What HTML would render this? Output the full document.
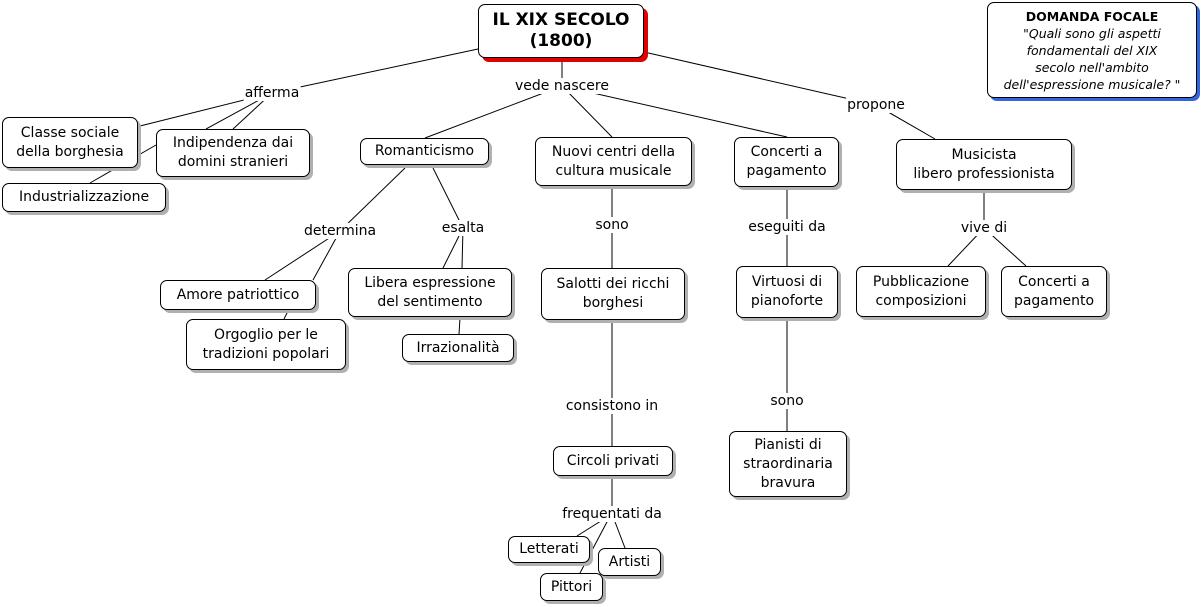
<!DOCTYPE html>
<html><head><meta charset="utf-8"><style>
body{margin:0;width:1204px;height:607px;background:#fff;position:relative;overflow:hidden;font-family:"DejaVu Sans","Liberation Sans",sans-serif;font-size:14px;color:#000}
.n{position:absolute;box-sizing:border-box;border:1px solid #000;border-radius:7px;background:#fff;box-shadow:3px 3px 0 #b0b0b0;display:flex;align-items:center;justify-content:center;text-align:center;line-height:19px}
.l{position:absolute;background:#fff;transform:translate(-50%,-50%);white-space:nowrap;line-height:16px;padding:0 1px}
svg{position:absolute;left:0;top:0}
</style></head><body>
<svg width="1204" height="607" stroke="#000" stroke-width="1">
<line x1="478" y1="49" x2="272" y2="93"/>
<line x1="272" y1="93" x2="140" y2="126"/>
<line x1="272" y1="93" x2="206" y2="129"/>
<line x1="272" y1="93" x2="233" y2="129"/>
<line x1="90" y1="183" x2="156" y2="145"/>
<line x1="562" y1="58" x2="562" y2="86"/>
<line x1="562" y1="86" x2="425" y2="138"/>
<line x1="562" y1="86" x2="612" y2="137"/>
<line x1="562" y1="86" x2="787" y2="137"/>
<line x1="644" y1="52" x2="876" y2="105"/>
<line x1="876" y1="105" x2="935" y2="139"/>
<line x1="405" y1="168" x2="340" y2="231"/>
<line x1="433" y1="168" x2="463" y2="228"/>
<line x1="340" y1="231" x2="265" y2="280"/>
<line x1="340" y1="231" x2="313" y2="280"/>
<line x1="284" y1="319" x2="288" y2="311"/>
<line x1="463" y1="228" x2="443" y2="268"/>
<line x1="463" y1="228" x2="462" y2="268"/>
<line x1="460" y1="318" x2="459" y2="334"/>
<line x1="612" y1="186" x2="612" y2="268"/>
<line x1="612" y1="320" x2="612" y2="446"/>
<line x1="612" y1="476" x2="612" y2="514"/>
<line x1="612" y1="514" x2="577" y2="536"/>
<line x1="608" y1="520" x2="580" y2="573"/>
<line x1="612" y1="514" x2="625" y2="548"/>
<line x1="787" y1="187" x2="787" y2="266"/>
<line x1="787" y1="318" x2="787" y2="431"/>
<line x1="984" y1="190" x2="984" y2="228"/>
<line x1="984" y1="228" x2="948" y2="266"/>
<line x1="984" y1="228" x2="1026" y2="266"/>
</svg>
<div class="l" style="left:272px;top:93px">afferma</div>
<div class="l" style="left:562px;top:86px">vede nascere</div>
<div class="l" style="left:876px;top:105px">propone</div>
<div class="l" style="left:340px;top:231px">determina</div>
<div class="l" style="left:463px;top:228px">esalta</div>
<div class="l" style="left:612px;top:225px">sono</div>
<div class="l" style="left:787px;top:227px">eseguiti da</div>
<div class="l" style="left:984px;top:228px">vive di</div>
<div class="l" style="left:612px;top:406px">consistono in</div>
<div class="l" style="left:787px;top:401px">sono</div>
<div class="l" style="left:612px;top:514px">frequentati da</div>

<div class="n" style="left:478px;top:4px;width:166px;height:54px;font-weight:bold;font-size:17px;line-height:21px;box-shadow:4px 4px 0 #e00000">IL XIX SECOLO<br>(1800)</div>
<div class="n" style="left:987px;top:2px;width:210px;height:96px;font-size:12.5px;line-height:17px;box-shadow:3px 3px 0 #3366dd;flex-direction:column"><b>DOMANDA FOCALE</b><i>"Quali sono gli aspetti<br>fondamentali del XIX<br>secolo nell'ambito<br>dell'espressione musicale? "</i></div>
<div class="n" style="left:2px;top:117px;width:136px;height:51px">Classe sociale<br>della borghesia</div>
<div class="n" style="left:156px;top:129px;width:154px;height:48px">Indipendenza dai<br>domini stranieri</div>
<div class="n" style="left:2px;top:183px;width:164px;height:29px">Industrializzazione</div>
<div class="n" style="left:360px;top:138px;width:129px;height:27px">Romanticismo</div>
<div class="n" style="left:535px;top:137px;width:157px;height:49px">Nuovi centri della<br>cultura musicale</div>
<div class="n" style="left:734px;top:137px;width:105px;height:50px">Concerti a<br>pagamento</div>
<div class="n" style="left:896px;top:139px;width:176px;height:51px">Musicista<br>libero professionista</div>
<div class="n" style="left:160px;top:280px;width:156px;height:30px">Amore patriottico</div>
<div class="n" style="left:186px;top:319px;width:160px;height:51px">Orgoglio per le<br>tradizioni popolari</div>
<div class="n" style="left:348px;top:268px;width:164px;height:49px">Libera espressione<br>del sentimento</div>
<div class="n" style="left:402px;top:334px;width:112px;height:28px">Irrazionalità</div>
<div class="n" style="left:541px;top:268px;width:144px;height:52px">Salotti dei ricchi<br>borghesi</div>
<div class="n" style="left:553px;top:446px;width:120px;height:30px">Circoli privati</div>
<div class="n" style="left:508px;top:536px;width:82px;height:27px">Letterati</div>
<div class="n" style="left:598px;top:548px;width:63px;height:28px">Artisti</div>
<div class="n" style="left:540px;top:573px;width:63px;height:28px">Pittori</div>
<div class="n" style="left:736px;top:266px;width:102px;height:52px">Virtuosi di<br>pianoforte</div>
<div class="n" style="left:729px;top:431px;width:118px;height:66px">Pianisti di<br>straordinaria<br>bravura</div>
<div class="n" style="left:856px;top:266px;width:130px;height:51px">Pubblicazione<br>composizioni</div>
<div class="n" style="left:1001px;top:266px;width:106px;height:51px">Concerti a<br>pagamento</div>
</body></html>
